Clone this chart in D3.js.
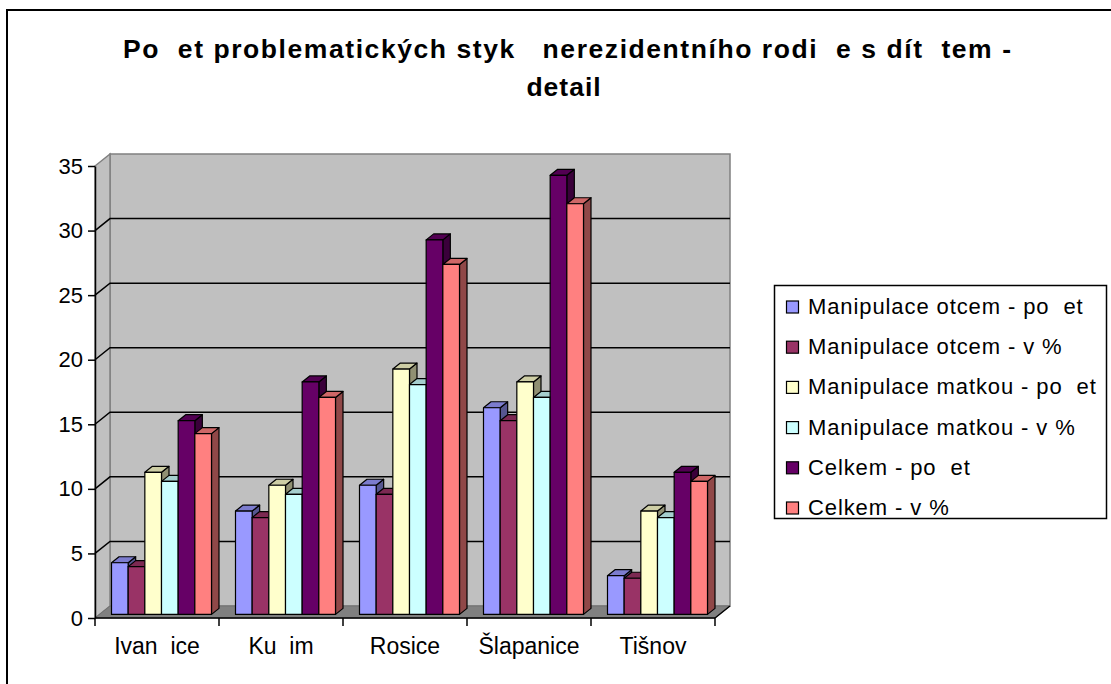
<!DOCTYPE html>
<html>
<head>
<meta charset="utf-8">
<script src="https://cdn.jsdelivr.net/npm/d3@7"></script>
<style>
  body { margin: 0; background: #fff; }
  svg { display: block; font-family: "Liberation Sans", Arial, sans-serif; }
  text { white-space: pre; }
</style>
</head>
<body>
<div id="chart"></div>
<script>
// data
var categories = ["Ivan  ice", "Ku  im", "Rosice", "Šlapanice", "Tišnov"];
var seriesNames = ["Manipulace otcem - po  et", "Manipulace otcem - v %", "Manipulace matkou - po  et",
                   "Manipulace matkou - v %", "Celkem - po  et", "Celkem - v %"];
var otcemPocet = [4, 8, 10, 16, 3];
var otcemProc = [3.7, 7.5, 9.3, 15.0, 2.8];
var matkouPocet = [11, 10, 19, 18, 8];
var matkouProc = [10.3, 9.3, 17.8, 16.8, 7.5];
var celkemPocet = [15, 18, 29, 34, 11];
var celkemProc = [14.0, 16.8, 27.1, 31.8, 10.3];
var yTicks = [0, 5, 10, 15, 20, 25, 30, 35];
var titleLines = ["Po  et problematických styk   nerezidentního rodi  e s dít  tem -", "detail"];

var seriesValues = [otcemPocet, otcemProc, matkouPocet, matkouProc, celkemPocet, celkemProc];
var colors = ["#9999ff", "#993366", "#ffffcc", "#ccffff", "#660066", "#ff8080"];

var width = 1111, height = 684;
var depthX = 15, depthY = -12;   // 3d offset of the back wall
var d0 = 0.3, d1 = 0.8;          // depth of bar front / back

var svg = d3.select("#chart").append("svg")
    .attr("width", width)
    .attr("height", height);

// outer frame (runs off the page on the right and bottom)
svg.append("rect")
    .attr("x", 7).attr("y", 10)
    .attr("width", 1300).attr("height", 900)
    .attr("fill", "none").attr("stroke", "#000").attr("stroke-width", 2);

var y = d3.scaleLinear().domain([0, 35]).range([618, 166]);
var x0 = d3.scaleBand().domain(categories).range([95, 715])
    .paddingInner(0.1935).paddingOuter(0.0968);
var x1 = d3.scaleBand().domain(seriesNames).range([0, x0.bandwidth()]);

function proj(px, py, d) { return [px + depthX * d, py + depthY * d]; }
function poly(pts) { return "M" + pts.map(function (p) { return p[0] + "," + p[1]; }).join("L") + "Z"; }

var xl = 95, xr = 715, yTop = y(35), yBot = y(0);

// back wall
svg.append("path")
    .attr("d", poly([proj(xl, yTop, 1), proj(xr, yTop, 1), proj(xr, yBot, 1), proj(xl, yBot, 1)]))
    .attr("fill", "#c0c0c0").attr("stroke", "#808080").attr("stroke-width", 1.5);
// side wall
svg.append("path")
    .attr("d", poly([proj(xl, yTop, 0), proj(xl, yTop, 1), proj(xl, yBot, 1), proj(xl, yBot, 0)]))
    .attr("fill", "#c0c0c0").attr("stroke", "#808080").attr("stroke-width", 1.5);
// floor
svg.append("path")
    .attr("d", poly([proj(xl, yBot, 0), proj(xl, yBot, 1), proj(xr, yBot, 1), proj(xr, yBot, 0)]))
    .attr("fill", "#808080").attr("stroke", "#707070").attr("stroke-width", 1);
svg.append("path")
    .attr("d", "M" + proj(xr, yBot, 0) + "L" + proj(xr, yBot, 1))
    .attr("stroke", "#000").attr("stroke-width", 1.5);

// gridlines
var grid = svg.append("g").attr("stroke", "#000").attr("stroke-width", 1.5).attr("fill", "none");
yTicks.filter(function (t) { return t > 0 && t < 35; }).forEach(function (t) {
    grid.append("path")
        .attr("d", "M" + proj(xl, y(t), 0) + "L" + proj(xl, y(t), 1) + "L" + proj(xr, y(t), 1));
});

// bars
var bars = svg.append("g").attr("stroke", "#000").attr("stroke-width", 1.2).attr("stroke-linejoin", "round");
categories.forEach(function (c, ci) {
    seriesNames.forEach(function (s, si) {
        var v = seriesValues[si][ci];
        var a = x0(c) + x1(s), b = a + x1.bandwidth();
        var yt = y(v), yb = y(0);
        var col = d3.color(colors[si]);
        bars.append("path")
            .attr("d", poly([proj(b, yt, d0), proj(b, yt, d1), proj(b, yb, d1), proj(b, yb, d0)]))
            .attr("fill", col.darker(1.6));
        bars.append("path")
            .attr("d", poly([proj(a, yt, d0), proj(a, yt, d1), proj(b, yt, d1), proj(b, yt, d0)]))
            .attr("fill", col.darker(0.6));
        bars.append("path")
            .attr("d", poly([proj(a, yt, d0), proj(b, yt, d0), proj(b, yb, d0), proj(a, yb, d0)]))
            .attr("fill", col);
    });
});

// y axis
var yAxis = svg.append("g")
    .attr("transform", "translate(95,0)")
    .call(d3.axisLeft(y).tickValues(yTicks).tickSizeInner(7).tickSizeOuter(0).tickPadding(5));
yAxis.select(".domain").attr("stroke", "#000").attr("stroke-width", 1.5);
yAxis.selectAll(".tick line").attr("stroke", "#000").attr("stroke-width", 1.5);
yAxis.selectAll(".tick text")
    .attr("font-size", 22).attr("fill", "#000")
    .attr("font-family", "'Liberation Sans', Arial, sans-serif");

// x axis
svg.append("line")
    .attr("x1", xl).attr("x2", xr).attr("y1", yBot).attr("y2", yBot)
    .attr("stroke", "#000").attr("stroke-width", 1.5);
var bounds = [xl].concat(categories.map(function (c) {
    return x0(c) + x0.bandwidth() + x0.step() * x0.paddingInner() / 2;
}));
svg.append("g").selectAll("line").data(bounds).enter().append("line")
    .attr("x1", function (d) { return d; }).attr("x2", function (d) { return d; })
    .attr("y1", yBot).attr("y2", yBot + 8)
    .attr("stroke", "#000").attr("stroke-width", 1.5);
svg.append("g").selectAll("text").data(categories).enter().append("text")
    .attr("x", function (d) { return x0(d) + x0.bandwidth() / 2; })
    .attr("y", 654)
    .attr("text-anchor", "middle")
    .attr("font-size", 23)
    .text(function (d) { return d; });

// title
svg.append("text")
    .attr("x", 567).attr("y", 58)
    .attr("text-anchor", "middle")
    .attr("font-size", 26.5).attr("font-weight", "bold")
    .attr("textLength", 888).attr("lengthAdjust", "spacing")
    .text(titleLines[0]);
svg.append("text")
    .attr("x", 564).attr("y", 96)
    .attr("text-anchor", "middle")
    .attr("font-size", 26.5).attr("font-weight", "bold")
    .attr("letter-spacing", 1)
    .text(titleLines[1]);

// legend
svg.append("rect")
    .attr("x", 774.5).attr("y", 285.5).attr("width", 332).attr("height", 233)
    .attr("fill", "#fff").attr("stroke", "#000").attr("stroke-width", 1.5);
var leg = svg.append("g").selectAll("g").data(seriesNames).enter().append("g")
    .attr("transform", function (d, i) { return "translate(0," + (314 + i * 40.2) + ")"; });
leg.append("rect")
    .attr("x", 786.5).attr("y", -13).attr("width", 12).attr("height", 12)
    .attr("fill", function (d, i) { return colors[i]; })
    .attr("stroke", "#000").attr("stroke-width", 1.2);
leg.append("text")
    .attr("x", 808).attr("y", 0)
    .attr("font-size", 22).attr("letter-spacing", 0.9)
    .text(function (d) { return d; });
</script>
</body>
</html>
